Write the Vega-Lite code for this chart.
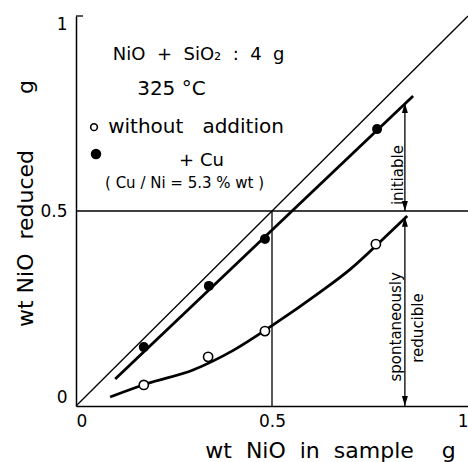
{
  "$schema": "https://vega.github.io/schema/vega-lite/v6.json",
  "autosize": {"type": "none"},
  "width": 392,
  "height": 390,
  "padding": {"left": 76, "top": 16, "right": 0, "bottom": 56},
  "background": "white",
  "config": {
    "view": {"stroke": null},
    "font": "DejaVu Sans",
    "axis": {
      "domainColor": "black",
      "domainWidth": 1.5,
      "ticks": false,
      "grid": false,
      "labelColor": "black",
      "labelFontSize": 17,
      "labelFont": "DejaVu Sans",
      "labelFlush": true,
      "titleColor": "black",
      "titleFont": "DejaVu Sans",
      "titleFontSize": 22,
      "titleFontWeight": "normal"
    }
  },
  "datasets": {
    "thin": [
      {"x": 0, "y": 0, "x2": 1, "y2": 1},
      {"x": 0, "y": 0.5, "x2": 1, "y2": 0.5},
      {"x": 0.5, "y": 0, "x2": 0.5, "y2": 0.5},
      {"x": 0.839, "y": 0.5, "x2": 0.839, "y2": 0.777},
      {"x": 0.839, "y": 0.485, "x2": 0.839, "y2": 0},
      {"x": 0, "y": 1, "x2": 0.018, "y2": 1}
    ],
    "cuLine": [
      {"x": 0.1, "y": 0.069, "x2": 0.86, "y2": 0.795}
    ],
    "curve": [
      {"x": 0.087, "y": 0.023},
      {"x": 0.18, "y": 0.057},
      {"x": 0.30, "y": 0.093},
      {"x": 0.40, "y": 0.142},
      {"x": 0.50, "y": 0.206},
      {"x": 0.62, "y": 0.29},
      {"x": 0.70, "y": 0.351},
      {"x": 0.78, "y": 0.425},
      {"x": 0.845, "y": 0.487}
    ],
    "filled": [
      {"x": 0.173, "y": 0.151},
      {"x": 0.339, "y": 0.308},
      {"x": 0.482, "y": 0.428},
      {"x": 0.768, "y": 0.71}
    ],
    "open": [
      {"x": 0.173, "y": 0.054},
      {"x": 0.337, "y": 0.126},
      {"x": 0.482, "y": 0.192},
      {"x": 0.765, "y": 0.415}
    ],
    "legendFilled": [
      {"x": 0.051, "y": 0.646}
    ],
    "legendOpen": [
      {"x": 0.046, "y": 0.715}
    ],
    "arrowUp": [
      {"x": 0.839, "y": 0.777},
      {"x": 0.839, "y": 0.485}
    ],
    "arrowDown": [
      {"x": 0.839, "y": 0.5},
      {"x": 0.839, "y": 0}
    ],
    "text18": [
      {"x": 0.094, "y": 0.90, "t": "NiO\u00a0\u00a0+\u00a0\u00a0SiO₂\u00a0\u00a0:\u00a0\u00a04\u00a0\u00a0g"},
      {"x": 0.263, "y": 0.629, "t": "+ Cu"}
    ],
    "text20": [
      {"x": 0.156, "y": 0.812, "t": "325 °C"},
      {"x": 0.082, "y": 0.715, "t": "without\u00a0\u00a0\u00a0addition"}
    ],
    "smallText": [
      {"x": 0.074, "y": 0.572, "t": "( Cu / Ni = 5.3 % wt )"}
    ],
    "rotText": [
      {"x": 0.821, "y": 0.592, "t": "initiable"},
      {"x": 0.816, "y": 0.203, "t": "spontaneously"},
      {"x": 0.872, "y": 0.2, "t": "reducible"}
    ]
  },
  "encoding": {
    "x": {
      "field": "x", "type": "quantitative",
      "scale": {"domain": [0, 1], "nice": false, "zero": false},
      "axis": {
        "values": [0, 0.5, 1],
        "format": ".1~f",
        "labelPadding": 7,
        "title": "wt\u00a0\u00a0NiO\u00a0\u00a0in\u00a0\u00a0sample\u00a0\u00a0\u00a0\u00a0g",
        "titleX": 254,
        "titleY": 51,
        "titleBaseline": "alphabetic",
        "titleAlign": "center"
      }
    },
    "y": {
      "field": "y", "type": "quantitative",
      "scale": {"domain": [0, 1], "nice": false, "zero": false},
      "axis": {
        "values": [0, 0.5, 1],
        "format": ".1~f",
        "labelPadding": 9,
        "title": "wt\u00a0NiO\u00a0\u00a0reduced\u00a0\u00a0\u00a0\u00a0\u00a0\u00a0\u00a0\u00a0g",
        "titleX": -44,
        "titleY": 187,
        "titleBaseline": "alphabetic",
        "titleAlign": "center",
        "titleAngle": -90
      }
    }
  },
  "layer": [
    {
      "data": {"name": "thin"},
      "mark": {"type": "rule", "color": "black", "strokeWidth": 1.3},
      "encoding": {"x2": {"field": "x2"}, "y2": {"field": "y2"}}
    },
    {
      "data": {"name": "cuLine"},
      "mark": {"type": "rule", "color": "black", "strokeWidth": 2.8},
      "encoding": {"x2": {"field": "x2"}, "y2": {"field": "y2"}}
    },
    {
      "data": {"name": "curve"},
      "mark": {"type": "line", "color": "black", "strokeWidth": 2.8, "interpolate": "monotone"},
      "encoding": {}
    },
    {
      "data": {"name": "filled"},
      "mark": {"type": "point", "shape": "circle", "filled": true, "color": "black", "size": 100, "opacity": 1},
      "encoding": {}
    },
    {
      "data": {"name": "open"},
      "mark": {"type": "point", "shape": "circle", "filled": true, "fill": "white", "stroke": "black", "strokeWidth": 1.6, "size": 85, "opacity": 1},
      "encoding": {}
    },
    {
      "data": {"name": "legendFilled"},
      "mark": {"type": "point", "shape": "circle", "filled": true, "color": "black", "size": 110, "opacity": 1},
      "encoding": {}
    },
    {
      "data": {"name": "legendOpen"},
      "mark": {"type": "point", "shape": "circle", "filled": true, "fill": "white", "stroke": "black", "strokeWidth": 1.6, "size": 45, "opacity": 1},
      "encoding": {}
    },
    {
      "data": {"name": "arrowUp"},
      "mark": {"type": "point", "shape": "M0,0 L0.3,1 L-0.3,1 Z", "filled": true, "color": "black", "size": 400, "opacity": 1},
      "encoding": {}
    },
    {
      "data": {"name": "arrowDown"},
      "mark": {"type": "point", "shape": "M0,0 L0.3,-1 L-0.3,-1 Z", "filled": true, "color": "black", "size": 400, "opacity": 1},
      "encoding": {}
    },
    {
      "data": {"name": "text18"},
      "mark": {"type": "text", "align": "left", "baseline": "middle", "fontSize": 18, "color": "black"},
      "encoding": {"text": {"field": "t"}}
    },
    {
      "data": {"name": "text20"},
      "mark": {"type": "text", "align": "left", "baseline": "middle", "fontSize": 20, "color": "black"},
      "encoding": {"text": {"field": "t"}}
    },
    {
      "data": {"name": "smallText"},
      "mark": {"type": "text", "align": "left", "baseline": "middle", "fontSize": 15, "color": "black"},
      "encoding": {"text": {"field": "t"}}
    },
    {
      "data": {"name": "rotText"},
      "mark": {"type": "text", "align": "center", "baseline": "middle", "angle": 270, "fontSize": 15, "color": "black"},
      "encoding": {"text": {"field": "t"}}
    }
  ]
}
